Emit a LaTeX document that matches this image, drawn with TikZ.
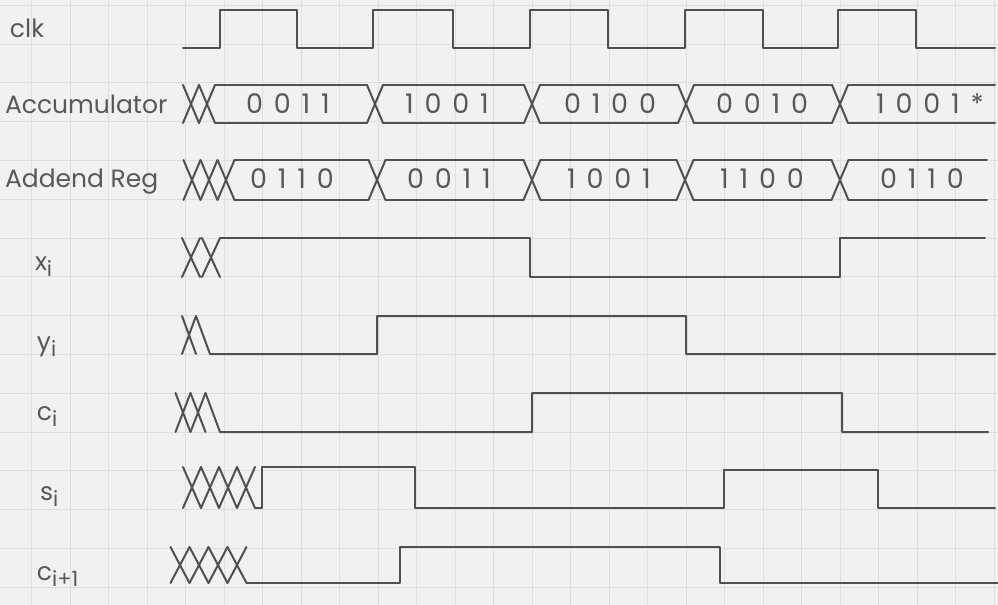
\documentclass[tikz,border=0pt]{standalone}
\usepackage{fontspec}
\newfontfamily\handfont{Poppins}
\newfontfamily\bitsfont[LetterSpace=40]{Poppins}
\newcommand\lowidx[1]{\raisebox{-0.45ex}{\fontsize{10.5}{12}\selectfont #1}}
\begin{document}
\begin{tikzpicture}[x=.5pt,y=-.5pt,
  wave/.style={draw={rgb,255:red,80;green,80;blue,80},line width=1pt,line join=round,line cap=round},
  sheet/.style={draw={rgb,255:red,222;green,222;blue,222},line width=0.5pt},
  signame/.style={inner sep=0pt,outer sep=0pt,anchor=base west,text={rgb,255:red,88;green,88;blue,88},font=\handfont\fontsize{12.5}{15}\selectfont},
  busval/.style={inner sep=0pt,outer sep=0pt,anchor=base,text={rgb,255:red,88;green,88;blue,88},font=\bitsfont\fontsize{13.5}{16}\selectfont}]
\path[use as bounding box] (0,0) rectangle (998,605);
\path[fill={rgb,255:red,241;green,241;blue,241}] (0,0) rectangle (998,605);
% graph paper
\foreach \k in {0,...,25} \draw[sheet] ({31.5+38.5*\k},0) -- ++(0,605);
\foreach \k in {0,...,15} \draw[sheet] (0,{5.2+38.8*\k}) -- ++(998,0);
% signal names
\node[signame] (nclk) at (10,38) {clk};
\node[signame] (nacc) at (5,113) {Accumulator};
\node[signame] (nadd) at (5,187) {Addend Reg};
\node[signame] (nx) at (35,270) {x\lowidx{i}};
\node[signame] (ny) at (37,350) {y\lowidx{i}};
\node[signame] (nc) at (37,420) {c\lowidx{i}};
\node[signame] (ns) at (40,500) {s\lowidx{i}};
\node[signame] (nco) at (37,580) {c\lowidx{i+1}};
% clock
\draw[wave] (183,48) -- (220,48) -- (220,10) -- (297,10) -- (297,48) -- (373,48) -- (373,10) -- (453,10) -- (453,48) -- (530,48) -- (530,10) -- (608,10) -- (608,48) -- (685,48) -- (685,10) -- (763,10) -- (763,48) -- (838,48) -- (838,10) -- (916,10) -- (916,48) -- (995,48);
% accumulator
\foreach \t in {191,207,375,532,686,840} \draw[wave] (\t-8,85) -- (\t+8,123) (\t-8,123) -- (\t+8,85);
\foreach \a/\b in {215/367,383/524,540/678,694/832,848/995} \draw[wave] (\a,85) -- (\b,85) (\a,123) -- (\b,123);
\node[busval] (acc1) at (288,113) {0011};
\node[busval] (acc2) at (447,113) {1001};
\node[busval] (acc3) at (610,113) {0100};
\node[busval] (acc4) at (762,113) {0010};
\node[busval] (acc5) at (930,113) {1001*};
% addend register
\foreach \t in {192,209,226,377,532,685,840} \draw[wave] (\t-8.5,160) -- (\t+8.5,200) (\t-8.5,200) -- (\t+8.5,160);
\foreach \a/\b in {234.5/368.5,385.5/523.5,540.5/676.5,693.5/831.5,848.5/987} \draw[wave] (\a,160) -- (\b,160) (\a,200) -- (\b,200);
\node[busval] (add1) at (292,188) {0110};
\node[busval] (add2) at (449,188) {0011};
\node[busval] (add3) at (609,188) {1001};
\node[busval] (add4) at (762,188) {1100};
\node[busval] (add5) at (922,188) {0110};
% x_i
\foreach \t in {191,211} \draw[wave] (\t-9,238) -- (\t+9,277) (\t-9,277) -- (\t+9,238);
\draw[wave] (220,238) -- (530,238) -- (530,277) -- (840,277) -- (840,238) -- (985,238);
% y_i
\draw[wave] (182,316) -- (196,354) (182,354) -- (196,316) -- (210,354) -- (377,354) -- (377,316) -- (686,316) -- (686,354) -- (995,354);
% c_i
\foreach \t in {183,198} \draw[wave] (\t-7.5,393) -- (\t+7.5,432) (\t-7.5,432) -- (\t+7.5,393);
\draw[wave] (205.5,393) -- (220,432) -- (532,432) -- (532,393) -- (842,393) -- (842,432) -- (988,432);
% s_i
\foreach \t in {192,210,228,246} \draw[wave] (\t-9,467) -- (\t+9,508) (\t-9,508) -- (\t+9,467);
\draw[wave] (255,508) -- (262,508) -- (262,467) -- (415,467) -- (415,508) -- (724,508) -- (724,470) -- (878,470) -- (878,508) -- (995,508);
% c_{i+1}
\foreach \t in {180,199,218,237} \draw[wave] (\t-9.5,547) -- (\t+9.5,583) (\t-9.5,583) -- (\t+9.5,547);
\draw[wave] (246.5,583) -- (400,583) -- (400,547) -- (720,547) -- (720,583) -- (998,583);
\end{tikzpicture}
\end{document}
